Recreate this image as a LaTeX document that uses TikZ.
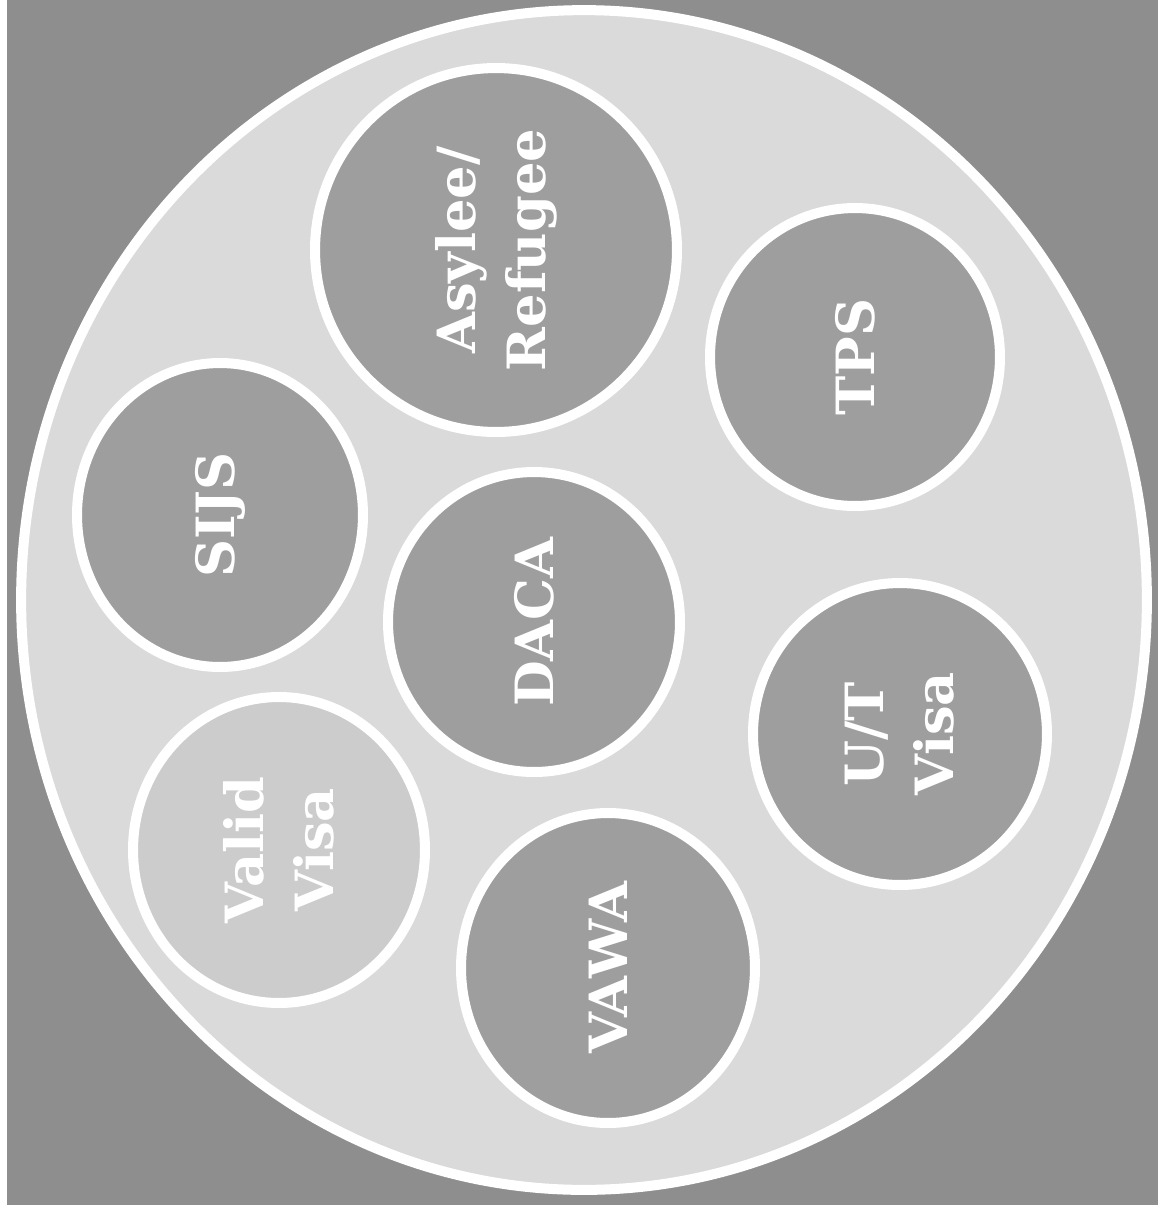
\documentclass[tikz,border=0pt]{standalone}
\usepackage{fontspec}
\setmainfont{DejaVu Serif}
\usetikzlibrary{shapes.geometric}
\definecolor{bggray}{RGB}{142,142,142}
\definecolor{outerfill}{RGB}{218,218,218}
\definecolor{innerfill}{RGB}{158,158,158}
\definecolor{validfill}{RGB}{204,204,204}
\tikzset{
  ring/.style={ellipse, draw=white, line width=5.7pt, inner sep=0pt, outer sep=0pt, fill=innerfill},
  lbl/.style={text=white, font=\bfseries\fontsize{30}{40}\selectfont, rotate=90, align=center, inner sep=0pt}
}
\begin{document}
\begin{tikzpicture}[x=0.02cm, y=-0.02cm]
\fill[bggray] (0,0) rectangle (1158,1205);
\useasboundingbox (0,0) rectangle (1158,1205);
\fill[white] (0,0) rectangle (7,1205);
\node[ring, fill=outerfill, minimum width=22.52cm, minimum height=23.6cm] (big) at (584,600) {};
\node[ring, minimum width=7.24cm, minimum height=7.28cm] (asy) at (496,250) {};
\node[ring, minimum width=5.8cm, minimum height=5.96cm] (tps) at (855,357) {};
\node[ring, minimum width=5.72cm, minimum height=6.08cm] (sijs) at (220,515) {};
\node[ring, minimum width=5.84cm, minimum height=6.0cm] (daca) at (534,622) {};
\node[ring, minimum width=5.88cm, minimum height=6.04cm] (ut) at (900,734) {};
\node[ring, fill=validfill, minimum width=5.84cm, minimum height=6.12cm] (valid) at (279,850) {};
\node[ring, minimum width=5.88cm, minimum height=6.2cm] (vawa) at (608,968) {};
\node[lbl] (asyl) at (asy) {Asylee/\\Refugee};
\node[lbl] (tpsl) at (tps) {TPS};
\node[lbl] (sijsl) at (sijs) {SIJS};
\node[lbl] (dacal) at (daca) {DACA};
\node[lbl] (utl) at (ut) {U/T\\Visa};
\node[lbl] (validl) at (valid) {Valid\\Visa};
\node[lbl] (vawal) at (vawa) {VAWA};
\end{tikzpicture}
\end{document}
